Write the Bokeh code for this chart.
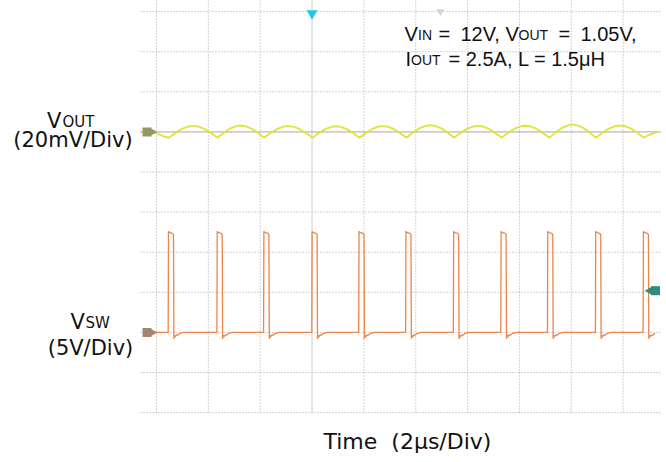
import numpy as np
from bokeh.plotting import figure
from bokeh.models import Range1d
from bokeh.core.properties import value
from bokeh.embed import file_html
from bokeh.resources import INLINE

# ---------------- data ----------------
grid_time_us = [-6, -4, -2, 0, 2, 4, 6, 8, 10, 12]          # 2 us/div
grid_div = [-5, -4, -3, -2, -1, 0, 1, 2, 3, 4, 5]
vout_offset_div = 2.0
vsw_offset_div = -3.0
vout_mv_per_div = 20.0
vsw_v_per_div = 5.0
trigger_time_us = 0.0
trigger_level_v = 5.2
aux_marker_us = 4.95
trace_start_us = -6.11
trace_end_us = 13.36

# switch node: rising-edge times and one pulse shape
vsw_rise_us = [-5.55, -3.67, -1.87, -0.01, 1.80, 3.61, 5.45, 7.28, 9.08, 10.93, 12.77]
pulse_dt_us = [0.0, 0.012, 0.035, 0.09, 0.17, 0.205, 0.22, 0.245, 0.28, 0.32, 0.37, 0.46, 0.60]
pulse_v = [0.0, 12.6, 12.5, 12.4, 12.35, 12.2, -0.8, -0.35, -0.55, -0.3, -0.35, -0.12, 0.0]

# output ripple: trough times, per-cycle peaks, one arch shape
vout_trough_us = [-5.52, -3.65, -1.85, 0.02, 1.83, 3.64, 5.48, 7.31, 9.15, 10.95, 12.80]
vout_peak_mv = [3.0, 3.2, 2.9, 2.8, 2.9, 3.3, 3.0, 3.1, 3.6, 3.2]
vout_trough_mv = -2.9
ripple_phase = [0.0, 0.06, 0.15, 0.27, 0.40, 0.50, 0.60, 0.73, 0.85, 0.94, 1.0]
ripple_shape = [0.0, 0.18, 0.45, 0.75, 0.95, 1.0, 0.95, 0.75, 0.45, 0.18, 0.0]
vout_lead_us = [-6.11, -5.92, -5.72]
vout_lead_mv = [0.0, -1.1, -2.2]
vout_tail_us = [12.95, 13.15, 13.36]
vout_tail_mv = [-1.8, -0.7, 0.0]

# ---------------- layout helpers (page pixels -> data) ----------------
W, H = 664, 460
T0_PX, PX_PER_US = 311.55, 25.925
Y0_PX, PX_PER_DIV = 211.6, 40.1
TEXT_DY = -7
NB = "\u00a0"


def tx(px):
    return (px - T0_PX) / PX_PER_US


def ty(py):
    return (Y0_PX - py) / PX_PER_DIV


p = figure(width=W, height=H,
           x_range=Range1d(tx(0), tx(W)),
           y_range=Range1d(ty(H), ty(0)),
           x_axis_type=None, y_axis_type=None,
           output_backend="svg", toolbar_location=None,
           min_border=0, min_border_left=0, min_border_right=0,
           min_border_top=0, min_border_bottom=0)
p.outline_line_color = None
p.background_fill_color = "white"
p.border_fill_color = "white"
p.grid.visible = False

# ---------------- graticule ----------------
grid_col = "#a9a9a9"
g_top, g_bot = ty(0), ty(413)
g_left, g_right = tx(140), tx(660)
p.segment(x0=grid_time_us, x1=grid_time_us, y0=[g_top] * len(grid_time_us),
          y1=[g_bot] * len(grid_time_us), line_color=grid_col, line_width=1,
          line_dash="1 2")
p.segment(x0=[g_left] * len(grid_div), x1=[g_right] * len(grid_div),
          y0=grid_div, y1=grid_div, line_color=grid_col, line_width=1,
          line_dash="1 2")
# reference lines (trigger position, ch1 offset)
p.segment(x0=[trigger_time_us], x1=[trigger_time_us], y0=[g_top], y1=[g_bot],
          line_color="#dcdcdc", line_width=1)
p.segment(x0=[g_left], x1=[g_right], y0=[vout_offset_div], y1=[vout_offset_div],
          line_color="#b4b4b4", line_width=1)

# ---------------- traces ----------------
sw_t, sw_v = [trace_start_us], [0.0]
for r in vsw_rise_us:
    for dt, v in zip(pulse_dt_us, pulse_v):
        if r + dt <= trace_end_us:
            sw_t.append(r + dt)
            sw_v.append(v)
sw_y = [vsw_offset_div + v / vsw_v_per_div for v in sw_v]

vo_t, vo_mv = list(vout_lead_us), list(vout_lead_mv)
for i in range(len(vout_trough_us) - 1):
    a, b = vout_trough_us[i], vout_trough_us[i + 1]
    for k, (ph, sh) in enumerate(zip(ripple_phase, ripple_shape)):
        if k == len(ripple_phase) - 1 and i < len(vout_trough_us) - 2:
            continue
        vo_t.append(a + ph * (b - a))
        vo_mv.append(vout_trough_mv + (vout_peak_mv[i] - vout_trough_mv) * sh)
vo_t += vout_tail_us
vo_mv += vout_tail_mv
vo_y = [vout_offset_div + m / vout_mv_per_div for m in vo_mv]

p.line(vo_t, vo_y, line_color="#e2e236", line_width=1.9, line_alpha=0.95)
p.line(sw_t, sw_y, line_color="#ee8448", line_width=1.3)

# ---------------- channel / trigger markers ----------------
p.scatter(x=[tx(146.5)] * 2, y=[vout_offset_div, vsw_offset_div], marker="square",
          size=9, fill_color=["#97946a", "#a4846f"], line_color=None)
p.scatter(x=[tx(151.5)] * 2, y=[vout_offset_div, vsw_offset_div], marker="triangle",
          angle=-np.pi / 2, size=9, fill_color=["#97946a", "#a4846f"], line_color=None)
trig_y = vsw_offset_div + trigger_level_v / vsw_v_per_div
p.scatter(x=[tx(655)], y=[trig_y], marker="square", size=9,
          fill_color="#2f8a82", line_color=None)
p.scatter(x=[tx(649.5)], y=[trig_y], marker="triangle", angle=np.pi / 2, size=9,
          fill_color="#2f8a82", line_color=None)
p.scatter(x=[trigger_time_us], y=[ty(13)], marker="triangle", angle=np.pi, size=11,
          fill_color="#22c6e6", line_color=None)
p.scatter(x=[aux_marker_us], y=[ty(11)], marker="triangle", angle=np.pi, size=8,
          fill_color="#d4d4d4", line_color=None)

# ---------------- texts ----------------
ARIAL = value("Liberation Sans")
WIDE = value("DejaVu Sans")
TXT = "#111111"


def put(xs, ys, texts, size, font, align="left"):
    p.text(x=[tx(v) for v in xs], y=[ty(v + TEXT_DY) for v in ys], text=texts,
           text_font=font, text_font_size=size, text_color=TXT,
           text_align=align, text_baseline="alphabetic")


# conditions box (top right)
put([404, 438, 460, 505, 558, 580, 405, 448], [40, 40, 40, 40, 40, 40, 65, 65],
    ["V", "=", "12V,", "V", "=", "1.05V,", "I", "= 2.5A, L = 1.5\u03bcH"],
    "20px", ARIAL)
put([417.5, 518, 410.5], [41, 41, 66], ["IN", "OUT", "OUT"], "14px", ARIAL)

# channel labels
put([46.5, 70], [127, 328], ["V", "V"], "21px", WIDE)
put([62, 85], [128, 329], ["OUT", "SW"], "15px", WIDE)
put([72.5, 90], [146, 354], ["(20mV/Div)", "(5V/Div)"], "21px", WIDE, align="center")

# time label
put([323], [448], ["Time " + NB + "(2\u03bcs/Div)"], "22px", WIDE)

open("out.html", "w").write(file_html(p, INLINE))
